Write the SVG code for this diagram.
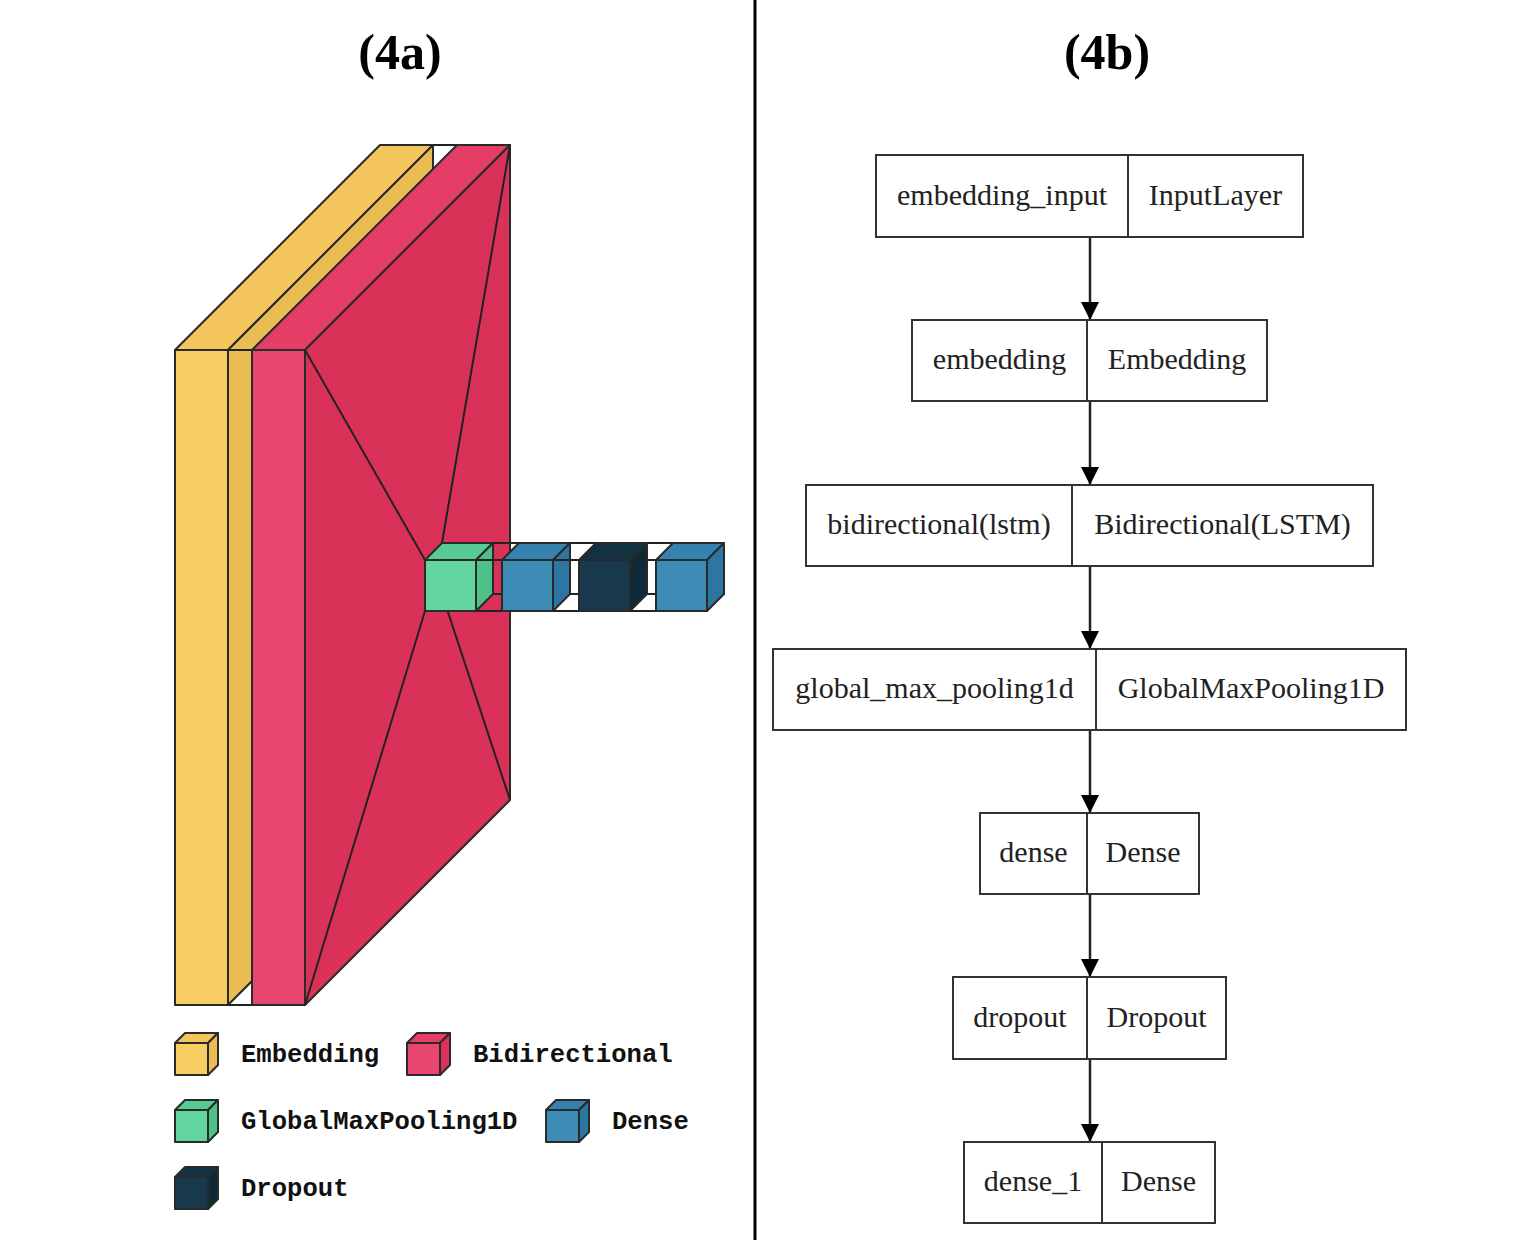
<svg xmlns="http://www.w3.org/2000/svg" width="1518" height="1240" viewBox="0 0 1518 1240">
<defs>
<style>
.title{font-family:"Liberation Serif","Times New Roman",serif;font-weight:bold;font-size:50px;fill:#000}
.lbl{font-family:"Liberation Serif","Times New Roman",serif;font-size:30px;fill:#222}
.leg{font-family:"Liberation Mono","Courier New",monospace;font-weight:bold;font-size:25.6px;fill:#111}
.box{fill:#fff;stroke:#333;stroke-width:2}
.div{stroke:#333;stroke-width:2}
.edge{stroke:#222;stroke-width:2.5;fill:none}
.f{stroke:#2a2a2a;stroke-width:2;stroke-linejoin:round}
.fl{stroke:#222;stroke-width:2;fill:none}
.y1{fill:#F6CE63}.y2{fill:#F3C55B}.y3{fill:#E9BD54}
.p1{fill:#E8466E}.p2{fill:#E43E67}.p3{fill:#DA3159}
.g1{fill:#62D69E}.g2{fill:#57CB92}.g3{fill:#4CC188}
.b1{fill:#3B8BB5}.b2{fill:#3482AD}.b3{fill:#2D76A2}
.d1{fill:#17394B}.d2{fill:#123141}.d3{fill:#0E2A39}
</style>
<marker id="ah" markerWidth="18" markerHeight="23" refX="18" refY="9" orient="auto" markerUnits="userSpaceOnUse">
<path d="M0,0 L18,9 L0,18 Z" fill="#000"/>
</marker>
</defs>
<rect width="1518" height="1240" fill="#fff"/>

<text class="title" x="400" y="69" text-anchor="middle">(4a)</text>
<text class="title" x="1107" y="69" text-anchor="middle">(4b)</text>
<line x1="755" y1="0" x2="755" y2="1240" stroke="#000" stroke-width="3"/>

<!-- 4a: 3D layer view -->
<g id="layer-embedding">
<rect class="f y1" x="175" y="350" width="53" height="655"/>
<polygon class="f y2" points="175,350 228,350 433,145 380,145"/>
<polygon class="f y3" points="228,350 433,145 433,800 228,1005"/>
</g>
<g id="funnel-emb-bidir">
<line class="fl" x1="433" y1="145" x2="457" y2="145"/>
<line class="fl" x1="228" y1="1005" x2="252" y2="1005"/>
<line class="fl" x1="228" y1="350" x2="252" y2="350"/>
</g>
<g id="layer-bidirectional">
<rect class="f p1" x="252" y="350" width="53" height="655"/>
<polygon class="f p2" points="252,350 305,350 510,145 457,145"/>
<polygon class="f p3" points="305,350 510,145 510,800 305,1005"/>
</g>
<g id="funnel-bidir-pool">
<line class="fl" x1="510" y1="145" x2="442" y2="543"/>
<line class="fl" x1="510" y1="800" x2="442" y2="594"/>
<line class="fl" x1="305" y1="1005" x2="425" y2="611"/>
<line class="fl" x1="305" y1="350" x2="425" y2="560"/>
</g>
<g id="layer-globalmaxpooling">
<rect class="f g1" x="425" y="560" width="51" height="51"/>
<polygon class="f g2" points="425,560 476,560 493,543 442,543"/>
<polygon class="f g3" points="476,560 493,543 493,594 476,611"/>
</g>
<g id="funnel-pool-dense">
<line class="fl" x1="493" y1="543" x2="519" y2="543"/>
<line class="fl" x1="493" y1="594" x2="519" y2="594"/>
<line class="fl" x1="476" y1="611" x2="502" y2="611"/>
<line class="fl" x1="476" y1="560" x2="502" y2="560"/>
</g>
<g id="layer-dense">
<rect class="f b1" x="502" y="560" width="51" height="51"/>
<polygon class="f b2" points="502,560 553,560 570,543 519,543"/>
<polygon class="f b3" points="553,560 570,543 570,594 553,611"/>
</g>
<g id="funnel-dense-dropout">
<line class="fl" x1="570" y1="543" x2="596" y2="543"/>
<line class="fl" x1="570" y1="594" x2="596" y2="594"/>
<line class="fl" x1="553" y1="611" x2="579" y2="611"/>
<line class="fl" x1="553" y1="560" x2="579" y2="560"/>
</g>
<g id="layer-dropout">
<rect class="f d1" x="579" y="560" width="51" height="51"/>
<polygon class="f d2" points="579,560 630,560 647,543 596,543"/>
<polygon class="f d3" points="630,560 647,543 647,594 630,611"/>
</g>
<g id="funnel-dropout-dense1">
<line class="fl" x1="647" y1="543" x2="673" y2="543"/>
<line class="fl" x1="647" y1="594" x2="673" y2="594"/>
<line class="fl" x1="630" y1="611" x2="656" y2="611"/>
<line class="fl" x1="630" y1="560" x2="656" y2="560"/>
</g>
<g id="layer-dense-1">
<rect class="f b1" x="656" y="560" width="51" height="51"/>
<polygon class="f b2" points="656,560 707,560 724,543 673,543"/>
<polygon class="f b3" points="707,560 724,543 724,594 707,611"/>
</g>

<!-- legend -->
<g id="legend-embedding">
<rect class="f y1" x="175" y="1043" width="33" height="32"/>
<polygon class="f y2" points="175,1043 208,1043 218,1033 185,1033"/>
<polygon class="f y3" points="208,1043 218,1033 218,1065 208,1075"/>
<text class="leg" x="241" y="1062">Embedding</text>
</g>
<g id="legend-bidirectional">
<rect class="f p1" x="407" y="1043" width="33" height="32"/>
<polygon class="f p2" points="407,1043 440,1043 450,1033 417,1033"/>
<polygon class="f p3" points="440,1043 450,1033 450,1065 440,1075"/>
<text class="leg" x="473" y="1062">Bidirectional</text>
</g>
<g id="legend-globalmaxpooling">
<rect class="f g1" x="175" y="1110" width="33" height="32"/>
<polygon class="f g2" points="175,1110 208,1110 218,1100 185,1100"/>
<polygon class="f g3" points="208,1110 218,1100 218,1132 208,1142"/>
<text class="leg" x="241" y="1129">GlobalMaxPooling1D</text>
</g>
<g id="legend-dense">
<rect class="f b1" x="546" y="1110" width="33" height="32"/>
<polygon class="f b2" points="546,1110 579,1110 589,1100 556,1100"/>
<polygon class="f b3" points="579,1110 589,1100 589,1132 579,1142"/>
<text class="leg" x="612" y="1129">Dense</text>
</g>
<g id="legend-dropout">
<rect class="f d1" x="175" y="1177" width="33" height="32"/>
<polygon class="f d2" points="175,1177 208,1177 218,1167 185,1167"/>
<polygon class="f d3" points="208,1177 218,1167 218,1199 208,1209"/>
<text class="leg" x="241" y="1196">Dropout</text>
</g>

<!-- 4b: model graph -->
<g id="connectors">
<line class="edge" x1="1090" y1="237" x2="1090" y2="320" marker-end="url(#ah)"/>
<line class="edge" x1="1090" y1="401" x2="1090" y2="485" marker-end="url(#ah)"/>
<line class="edge" x1="1090" y1="566" x2="1090" y2="649" marker-end="url(#ah)"/>
<line class="edge" x1="1090" y1="730" x2="1090" y2="813" marker-end="url(#ah)"/>
<line class="edge" x1="1090" y1="894" x2="1090" y2="977" marker-end="url(#ah)"/>
<line class="edge" x1="1090" y1="1059" x2="1090" y2="1142" marker-end="url(#ah)"/>
</g>
<g id="node-embedding_input">
<rect class="box" x="876" y="155" width="427" height="82"/>
<line class="div" x1="1128" y1="155" x2="1128" y2="237"/>
<text class="lbl" x="1002" y="205" text-anchor="middle">embedding_input</text>
<text class="lbl" x="1215.5" y="205" text-anchor="middle">InputLayer</text>
</g>
<g id="node-embedding">
<rect class="box" x="912" y="320" width="355" height="81"/>
<line class="div" x1="1087" y1="320" x2="1087" y2="401"/>
<text class="lbl" x="999.5" y="369" text-anchor="middle">embedding</text>
<text class="lbl" x="1177" y="369" text-anchor="middle">Embedding</text>
</g>
<g id="node-bidirectional">
<rect class="box" x="806" y="485" width="567" height="81"/>
<line class="div" x1="1072" y1="485" x2="1072" y2="566"/>
<text class="lbl" x="939" y="534" text-anchor="middle">bidirectional(lstm)</text>
<text class="lbl" x="1222.5" y="534" text-anchor="middle">Bidirectional(LSTM)</text>
</g>
<g id="node-global_max_pooling1d">
<rect class="box" x="773" y="649" width="633" height="81"/>
<line class="div" x1="1096" y1="649" x2="1096" y2="730"/>
<text class="lbl" x="934.5" y="698" text-anchor="middle">global_max_pooling1d</text>
<text class="lbl" x="1251" y="698" text-anchor="middle">GlobalMaxPooling1D</text>
</g>
<g id="node-dense">
<rect class="box" x="980" y="813" width="219" height="81"/>
<line class="div" x1="1087" y1="813" x2="1087" y2="894"/>
<text class="lbl" x="1033.5" y="862" text-anchor="middle">dense</text>
<text class="lbl" x="1143" y="862" text-anchor="middle">Dense</text>
</g>
<g id="node-dropout">
<rect class="box" x="953" y="977" width="273" height="82"/>
<line class="div" x1="1087" y1="977" x2="1087" y2="1059"/>
<text class="lbl" x="1020" y="1027" text-anchor="middle">dropout</text>
<text class="lbl" x="1156.5" y="1027" text-anchor="middle">Dropout</text>
</g>
<g id="node-dense_1">
<rect class="box" x="964" y="1142" width="251" height="81"/>
<line class="div" x1="1102" y1="1142" x2="1102" y2="1223"/>
<text class="lbl" x="1033" y="1191" text-anchor="middle">dense_1</text>
<text class="lbl" x="1158.5" y="1191" text-anchor="middle">Dense</text>
</g>
</svg>
